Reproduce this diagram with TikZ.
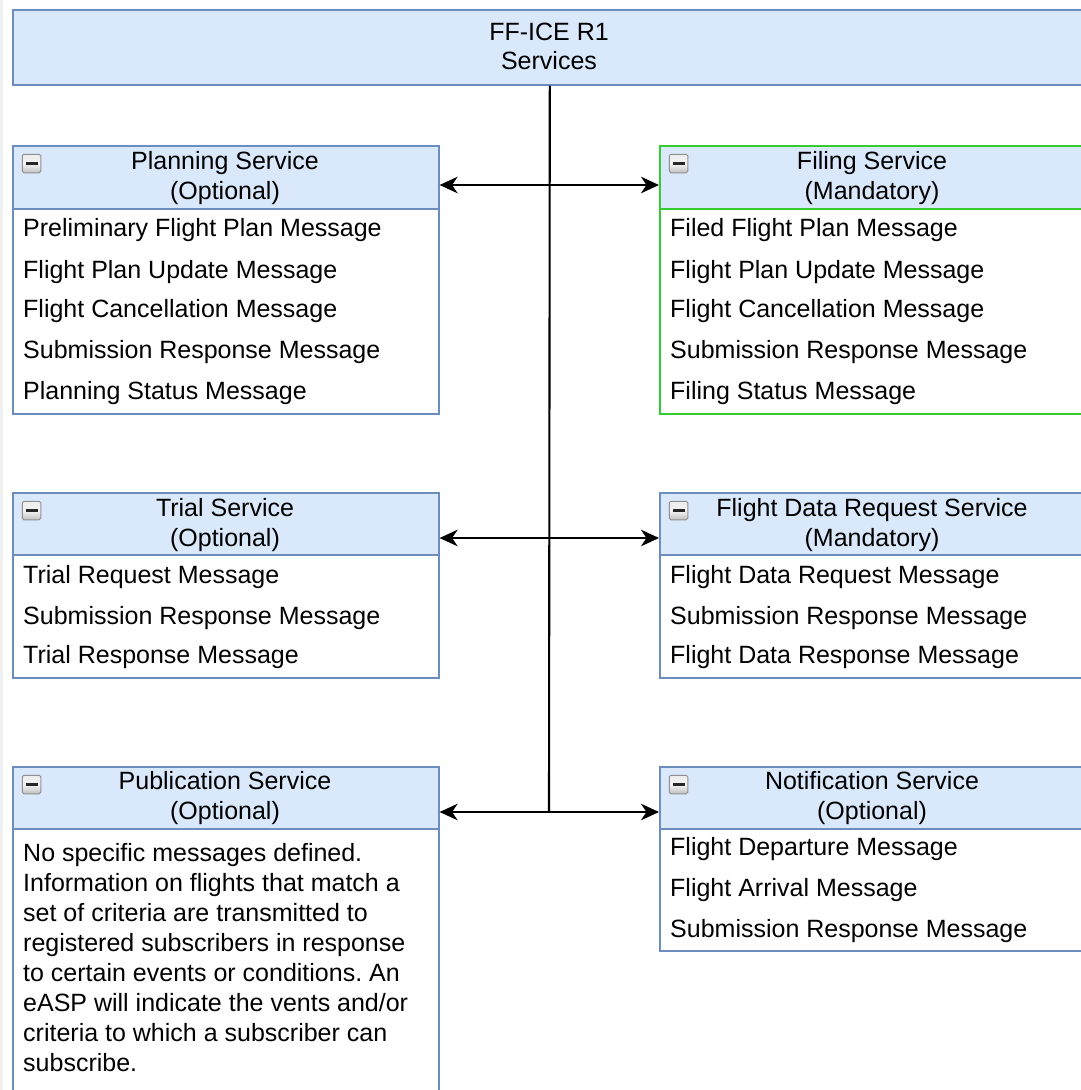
\documentclass[tikz,border=0pt]{standalone}
\usepackage{fontspec}
\setmainfont{Liberation Sans}
\usetikzlibrary{arrows.meta}
\definecolor{hdrfill}{HTML}{DAE8FC}
\definecolor{hdrline}{HTML}{6C8EBF}
\definecolor{grnline}{HTML}{33CC33}
\definecolor{iconedge}{HTML}{909090}
\frenchspacing
\begin{document}
\begin{tikzpicture}[x=1pt,y=-1pt,
  every node/.style={font=\fontsize{25}{30}\selectfont},
  hdr/.style={draw=hdrline, fill=hdrfill, line width=1.6pt, anchor=north west,
    minimum width=426pt, minimum height=63pt, inner sep=0pt},
  bodybox/.style={draw=hdrline, fill=white, line width=1.6pt, anchor=north west,
    minimum width=426pt, inner sep=0pt},
  topbox/.style={draw=hdrline, fill=hdrfill, line width=1.6pt, anchor=north west,
    minimum width=1074pt, minimum height=75pt, inner sep=0pt},
  item/.style={anchor=base west, inner sep=0pt},
  htext/.style={anchor=base, inner sep=0pt},
  icon/.style={draw=iconedge, line width=1pt, rounded corners=1.5pt, top color=gray!15,
    bottom color=gray!50, middle color=gray!8, minimum width=18.5pt, minimum height=18.5pt, inner sep=0pt,
    path picture={\draw[line width=3.4pt,black!85]
      ([xshift=-6pt]path picture bounding box.center) --
      ([xshift=6pt]path picture bounding box.center);}},
  conn/.style={line width=2.1pt, black},
  tip/.tip={Stealth[length=18pt,width=16.5pt,inset=5.5pt]}
]
\clip (0,0) rectangle (1081,1090);
\fill[gray!12] (0,0) rectangle (3,1090);

% title
\node[topbox] (top) at (12,9) {};
\node[htext] (toptxt1) at (549,40) {FF-ICE R1};
\node[htext] (toptxt2) at (549,69) {Services};

% Planning service
\node[hdr] (planhd) at (12,145) {};
\node[bodybox, minimum height=205pt] (planbd) at (12,208) {};
\node[icon] (planicon) at (31.5,163.5) {};
\node[htext] (plant1) at (225,169) {Planning Service};
\node[htext] (plant2) at (225,199) {(Optional)};
\node[item] (plani1) at (23,236) {Preliminary Flight Plan Message};
\node[item] (plani2) at (23,278) {Flight Plan Update Message};
\node[item] (plani3) at (23,317) {Flight Cancellation Message};
\node[item] (plani4) at (23,358) {Submission Response Message};
\node[item] (plani5) at (23,399) {Planning Status Message};

% Filing service
\node[hdr, draw=grnline] (filhd) at (659,145) {};
\node[bodybox, draw=grnline, minimum height=205pt] (filbd) at (659,208) {};
\node[icon] (filicon) at (678.5,163.5) {};
\node[htext] (filt1) at (872,169) {Filing Service};
\node[htext] (filt2) at (872,199) {(Mandatory)};
\node[item] (fili1) at (670,236) {Filed Flight Plan Message};
\node[item] (fili2) at (670,278) {Flight Plan Update Message};
\node[item] (fili3) at (670,317) {Flight Cancellation Message};
\node[item] (fili4) at (670,358) {Submission Response Message};
\node[item] (fili5) at (670,399) {Filing Status Message};

% Trial service
\node[hdr] (trihd) at (12,492) {};
\node[bodybox, minimum height=123pt] (tribd) at (12,554) {};
\node[icon] (triicon) at (31.5,510.5) {};
\node[htext] (trit1) at (225,516) {Trial Service};
\node[htext] (trit2) at (225,546) {(Optional)};
\node[item] (trii1) at (23,583) {Trial Request Message};
\node[item] (trii2) at (23,624) {Submission Response Message};
\node[item] (trii3) at (23,663) {Trial Response Message};

% Flight data request service
\node[hdr] (fdrhd) at (659,492) {};
\node[bodybox, minimum height=123pt] (fdrbd) at (659,554) {};
\node[icon] (fdricon) at (678.5,510.5) {};
\node[htext] (fdrt1) at (872,516) {Flight Data Request Service};
\node[htext] (fdrt2) at (872,546) {(Mandatory)};
\node[item] (fdri1) at (670,583) {Flight Data Request Message};
\node[item] (fdri2) at (670,624) {Submission Response Message};
\node[item] (fdri3) at (670,663) {Flight Data Response Message};

% Publication service
\node[hdr] (pubhd) at (12,766) {};
\node[bodybox, minimum height=280pt] (pubbd) at (12,828) {};
\node[icon] (pubicon) at (31.5,784.5) {};
\node[htext] (pubt1) at (225,789) {Publication Service};
\node[htext] (pubt2) at (225,819) {(Optional)};
\foreach \t [count=\i from 0] in {No specific messages defined.,
  Information on flights that match a,
  set of criteria are transmitted to,
  registered subscribers in response,
  to certain events or conditions. An,
  eASP will indicate the vents and/or,
  criteria to which a subscriber can,
  subscribe.}
  \node[item] (publ\i) at (23,861+30*\i) {\t};

% Notification service
\node[hdr] (nothd) at (659,766) {};
\node[bodybox, minimum height=122pt] (notbd) at (659,828) {};
\node[icon] (noticon) at (678.5,784.5) {};
\node[htext] (nott1) at (872,789) {Notification Service};
\node[htext] (nott2) at (872,819) {(Optional)};
\node[item] (noti1) at (670,855) {Flight Departure Message};
\node[item] (noti2) at (670,896) {Flight Arrival Message};
\node[item] (noti3) at (670,937) {Submission Response Message};

% connectors
\coordinate (j1) at (549,185);
\coordinate (j2) at (549,538);
\coordinate (hub) at (549,812);
\draw[conn] (top.south) -- (hub);
\draw[conn,tip-tip] (planhd.east |- j1) -- (filhd.west |- j1);
\draw[conn,tip-tip] (trihd.east |- j2) -- (fdrhd.west |- j2);
\draw[conn,-tip] (hub) -- (pubhd.east |- hub);
\draw[conn,-tip] (hub) -- (nothd.west |- hub);
\end{tikzpicture}
\end{document}
